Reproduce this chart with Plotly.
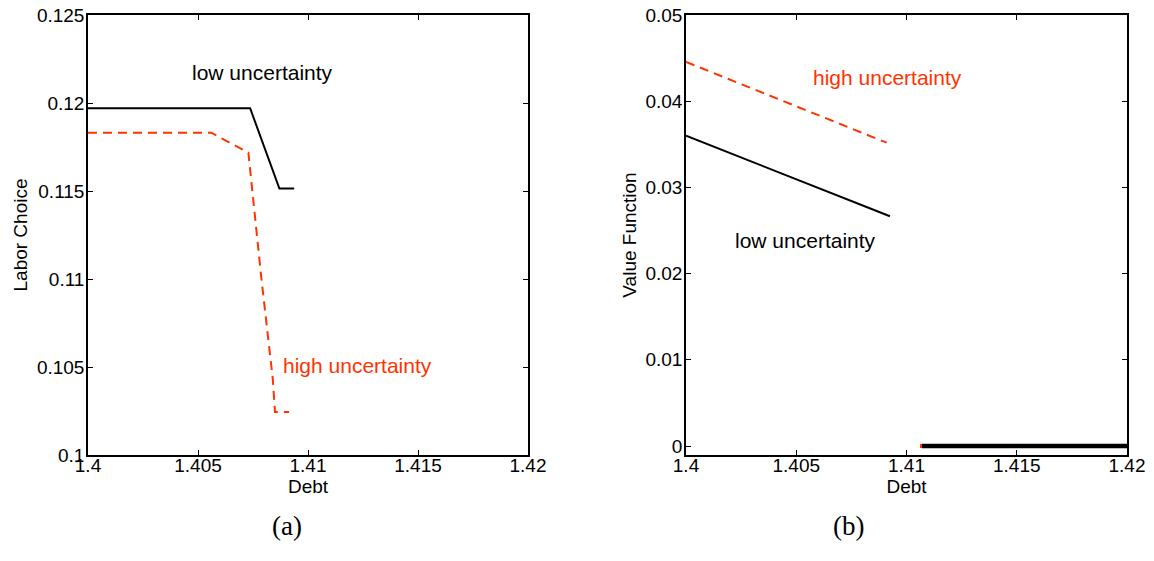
import plotly.graph_objects as go

# Panel (a): Labor choice vs debt
debt_a_low = [1.4, 1.40737, 1.4087, 1.40937]
labor_low = [0.1197, 0.1197, 0.11514, 0.11514]
debt_a_high = [1.4, 1.4056, 1.40729, 1.4075, 1.40787, 1.4084, 1.4085, 1.40914]
labor_high = [0.11831, 0.11831, 0.11718, 0.11451, 0.11016, 0.10431, 0.10244, 0.10244]

# Panel (b): Value function vs debt
debt_b_low = [1.4, 1.40925]
value_low = [0.0360, 0.02665]
debt_b_high = [1.4, 1.4091]
value_high = [0.04456, 0.03519]
debt_b_default_high = [1.41061, 1.4107]
value_default_high = [0.0, 0.0]
debt_b_default_low = [1.4107, 1.42]
value_default_low = [0.0, 0.0]

x_ticks = [1.4, 1.405, 1.41, 1.415, 1.42]
x_ticklabels = ["1.4", "1.405", "1.41", "1.415", "1.42"]
ya_ticks = [0.1, 0.105, 0.11, 0.115, 0.12, 0.125]
ya_ticklabels = ["0.1", "0.105", "0.11", "0.115", "0.12", "0.125"]
yb_ticks = [0, 0.01, 0.02, 0.03, 0.04, 0.05]
yb_ticklabels = ["0", "0.01", "0.02", "0.03", "0.04", "0.05"]

# body margin is removed by a post script, so the figure fills the window
W, H = 1154, 561
L, R, T, B = 88, 1127, 15, 455
BLACK = "#000000"
RED = "#ff3300"
FONT = "Liberation Sans, Arial, Helvetica, sans-serif"
DASH = "9px,6px"

fig = go.Figure()

fig.add_trace(go.Scatter(x=debt_a_low, y=labor_low, mode="lines",
                         line=dict(color=BLACK, width=2), xaxis="x", yaxis="y",
                         showlegend=False))
fig.add_trace(go.Scatter(x=debt_a_high, y=labor_high, mode="lines",
                         line=dict(color=RED, width=2, dash=DASH), xaxis="x", yaxis="y",
                         showlegend=False))

fig.add_trace(go.Scatter(x=debt_b_low, y=value_low, mode="lines",
                         line=dict(color=BLACK, width=2), xaxis="x2", yaxis="y2",
                         showlegend=False))
fig.add_trace(go.Scatter(x=debt_b_high, y=value_high, mode="lines",
                         line=dict(color=RED, width=2, dash=DASH), xaxis="x2", yaxis="y2",
                         showlegend=False))
fig.add_trace(go.Scatter(x=debt_b_default_high, y=value_default_high, mode="lines",
                         line=dict(color=RED, width=4), xaxis="x2", yaxis="y2",
                         showlegend=False, cliponaxis=False))
fig.add_trace(go.Scatter(x=debt_b_default_low, y=value_default_low, mode="lines",
                         line=dict(color=BLACK, width=4.5), xaxis="x2", yaxis="y2",
                         showlegend=False, cliponaxis=False))

PW = R - L
PH = B - T

def dx(px):
    return (px - L) / PW

def dy(py):
    return (B - py) / PH

axis_common = dict(showline=True, linecolor=BLACK, linewidth=1.5, mirror="ticks",
                   ticks="inside", ticklen=5, tickcolor=BLACK, tickwidth=1,
                   showgrid=False, zeroline=False, automargin=False,
                   ticklabeloverflow="allow",
                   tickfont=dict(family=FONT, size=19, color=BLACK))
title_font = dict(size=19, family=FONT, color=BLACK)

fig.update_layout(
    width=W, height=H,
    margin=dict(l=L, r=W - R, t=T, b=H - B, autoexpand=False),
    paper_bgcolor="white", plot_bgcolor="white",
    font=dict(family=FONT, color=BLACK),
    xaxis=dict(domain=[0, dx(528)], range=[1.4, 1.42], tickvals=x_ticks,
               ticktext=x_ticklabels, anchor="y", ticklabelstandoff=-8,
               title=dict(text="Debt", font=title_font, standoff=0),
               **axis_common),
    yaxis=dict(domain=[0, 1], range=[0.1, 0.125], tickvals=ya_ticks,
               ticktext=ya_ticklabels, anchor="x", ticklabelstandoff=-2,
               title=dict(text="Labor Choice", font=title_font, standoff=4),
               **axis_common),
    xaxis2=dict(domain=[dx(686), 1], range=[1.4, 1.42], tickvals=x_ticks,
                ticktext=x_ticklabels, anchor="y2", ticklabelstandoff=-8,
                title=dict(text="Debt", font=title_font, standoff=0),
                **axis_common),
    yaxis2=dict(domain=[0, 1], range=[-0.00104, 0.05], tickvals=yb_ticks,
                ticktext=yb_ticklabels, anchor="x2", ticklabelstandoff=-2,
                title=dict(text="Value Function", font=title_font, standoff=4),
                **axis_common),
)

ann_font = dict(family=FONT, size=21)
fig.add_annotation(x=1.40795, y=0.12176, xref="x", yref="y", text="low uncertainty",
                   showarrow=False, font=dict(color=BLACK, **ann_font))
fig.add_annotation(x=1.41227, y=0.10506, xref="x", yref="y", text="high uncertainty",
                   showarrow=False, font=dict(color=RED, **ann_font))
fig.add_annotation(x=1.40916, y=0.0427, xref="x2", yref="y2", text="high uncertainty",
                   showarrow=False, font=dict(color=RED, **ann_font))
fig.add_annotation(x=1.4054, y=0.02382, xref="x2", yref="y2", text="low uncertainty",
                   showarrow=False, font=dict(color=BLACK, **ann_font))

cap_font = dict(family="Liberation Serif, DejaVu Serif, serif", size=27, color=BLACK)
fig.add_annotation(x=dx(270), y=dy(543), xref="paper", yref="paper", text="(a)",
                   showarrow=False, font=cap_font)
fig.add_annotation(x=dx(866), y=dy(543), xref="paper", yref="paper", text="(b)",
                   showarrow=False, font=cap_font)

fig.write_html("out.html",
               config={"displayModeBar": False},
               post_script="document.body.style.margin='0';document.body.style.overflow='hidden';")
